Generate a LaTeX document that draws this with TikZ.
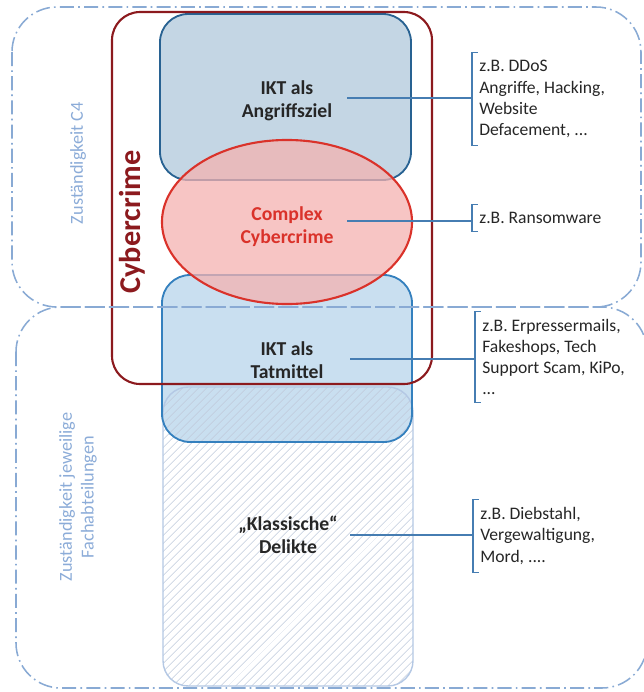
\documentclass[tikz,border=0pt]{standalone}
\usepackage{fontspec}
\setmainfont{Carlito}
\usetikzlibrary{patterns.meta}

\definecolor{zonebleu}{RGB}{137,170,212}
\definecolor{zonetexte}{RGB}{140,172,216}
\definecolor{cibleFond}{RGB}{196,214,228}
\definecolor{cibleBord}{RGB}{40,98,146}
\definecolor{moyenFond}{RGB}{201,223,240}
\definecolor{moyenBord}{RGB}{52,128,190}
\definecolor{complexFond}{RGB}{244,178,176}
\definecolor{complexBord}{RGB}{218,50,42}
\definecolor{cyberRouge}{RGB}{140,26,30}
\definecolor{hachure}{RGB}{192,203,220}
\definecolor{classiqueBord}{RGB}{180,200,228}
\definecolor{lien}{RGB}{70,125,178}
\definecolor{texte}{RGB}{38,38,38}

\tikzset{
  zone/.style={draw=zonebleu, line width=1.1pt, dash pattern=on 10pt off 3pt on 1.2pt off 3pt, rounded corners=32pt},
  boite/.style={line width=1.3pt, rounded corners=20pt},
  titre/.style={align=center, font=\fontsize{14}{16.5}\selectfont\bfseries, text=texte},
  exemple/.style={anchor=west, align=left, inner xsep=5pt, inner ysep=5.5pt, font=\fontsize{12.5}{15}\selectfont, text=texte},
  renvoi/.style={draw=lien, line width=0.8pt},
  zonelabel/.style={rotate=90, align=center, text=zonetexte, font=\fontsize{13}{15.5}\selectfont}
}

\begin{document}
\begin{tikzpicture}[x=0.025cm, y=-0.025cm]
    \useasboundingbox (0,0) rectangle (644,692);

    % IKT als Tatmittel (fond) et délits classiques hachurés
    \fill[moyenFond, rounded corners=20pt] (162,275) rectangle (412,442);
    \draw[classiqueBord, line width=1pt, rounded corners=18pt, pattern={Lines[angle=45,distance=4pt,line width=0.5pt]}, pattern color=hachure] (163,387) rectangle (413,686);
    \draw[boite, draw=moyenBord] (162,275) rectangle (412,442);

    % IKT als Angriffsziel
    \draw[boite, draw=cibleBord, fill=cibleFond] (160,14) rectangle (411,180);

    % Complex Cybercrime
    \draw[complexBord, line width=1.5pt, fill=complexFond, fill opacity=0.75] (287,222) ellipse [x radius=3.125cm, y radius=2.05cm];

    % cadre Cybercrime
    \draw[cyberRouge, line width=1.5pt, rounded corners=20pt] (112,12) rectangle (432,384);

    % zones de compétence
    \draw[zone] (12,7) rectangle (641,307);
    \draw[zone] (16,307) rectangle (647,688);

    % textes des boites
    \node[titre] (cible) at (287,101) {IKT als\\Angriffsziel};
    \node[titre, text=complexBord] (complex) at (287,227) {Complex\\Cybercrime};
    \node[titre] (moyen) at (287,360) {IKT als\\Tatmittel};
    \node[titre] (classique) at (288,535) {„Klassische“\\Delikte};

    % textes verticaux
    \node[rotate=90, text=cyberRouge, font=\fontsize{21.5}{24}\selectfont\bfseries] (cyber) at (132,222) {Cybercrime};
    \node[zonelabel] (c4) at (78,163) {Zuständigkeit C4};
    \node[zonelabel] (fach) at (78,497) {Zuständigkeit jeweilige\\Fachabteilungen};

    % exemples à droite
    \node[exemple] (exCible) at (472,99) {z.B. DDoS\\Angriffe, Hacking,\\Website\\Defacement, ...};
    \node[exemple] (exComplex) at (472,218) {z.B. Ransomware};
    \node[exemple] (exMoyen) at (475,357) {z.B. Erpressermails,\\Fakeshops, Tech\\Support Scam, KiPo,\\...};
    \node[exemple] (exClassique) at (473,536) {z.B. Diebstahl,\\Vergewaltigung,\\Mord, ....};

    % crochets et renvois
    \coordinate (dCible) at (347,98);
    \coordinate (dComplex) at (347,221);
    \coordinate (dMoyen) at (350,359);
    \coordinate (dClassique) at (350,535);
    \foreach \n in {Cible,Complex,Moyen,Classique} {
        \draw[renvoi] ([xshift=4pt]ex\n.north west) -- (ex\n.north west) -- (ex\n.south west) -- ([xshift=4pt]ex\n.south west);
        \draw[renvoi] (d\n) -- (d\n -| ex\n.west);
    }
\end{tikzpicture}
\end{document}
